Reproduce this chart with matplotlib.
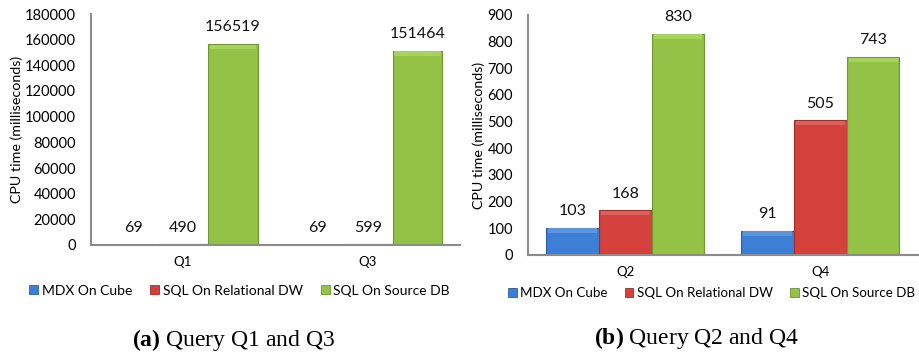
import numpy as np
import matplotlib
matplotlib.use("Agg")
import matplotlib.pyplot as plt
from matplotlib.patches import Patch, Rectangle

plt.rcParams["font.family"] = ["Lato", "DejaVu Sans"]
plt.rcParams["mathtext.fontset"] = "custom"
plt.rcParams["mathtext.rm"] = "Liberation Serif"
plt.rcParams["mathtext.bf"] = "Liberation Serif:bold"

series = ["MDX On Cube", "SQL On Relational DW", "SQL On Source DB"]
face_colors = ["#3d7fd4", "#d4403c", "#93c246"]
edge_colors = ["#2b5e9e", "#9e2e2b", "#6f9432"]
top_colors = ["#5b95e0", "#df5f5c", "#a6d35c"]

queries_a = ["Q1", "Q3"]
times_a = [
    [69, 69],
    [490, 599],
    [156519, 151464],
]
yticks_a = list(range(0, 180001, 20000))

queries_b = ["Q2", "Q4"]
times_b = [
    [103, 91],
    [168, 505],
    [830, 743],
]
yticks_b = list(range(0, 901, 100))

W, H = 919, 357
fig = plt.figure(figsize=(W / 100, H / 100), dpi=100)
ax_a = fig.add_axes([90.7 / W, 1 - 245 / H, (460 - 90.7) / W, (245 - 14) / H])
ax_b = fig.add_axes([527.7 / W, 1 - 255 / H, (918 - 527.7) / W, (255 - 15) / H])

BAR_W = 0.27
BAND_PX = 5


def draw_panel(ax, queries, times, yticks):
    x = np.arange(len(queries))
    ax.set_xlim(-0.5, len(queries) - 0.5)
    ax.set_ylim(yticks[0], yticks[-1])
    # data units per pixel, for the lighter cap on top of each bar
    per_px = (yticks[-1] - yticks[0]) / ax.get_window_extent().height
    for i, vals in enumerate(times):
        pos = x + (i - 1) * BAR_W
        ax.bar(pos, vals, BAR_W, color=face_colors[i], edgecolor=edge_colors[i],
               linewidth=0.8, zorder=2)
        for px, v in zip(pos, vals):
            band = BAND_PX * per_px
            if v > 3 * band:
                ax.add_patch(Rectangle((px - BAR_W / 2 + 0.01, v - band), BAR_W - 0.02, band * 0.85,
                                       facecolor=top_colors[i], edgecolor="none", zorder=3))
            ax.annotate(str(v), (px, v), xytext=(0, 12), textcoords="offset points",
                        ha="center", va="center", fontsize=11.5, color="#111111")
    ax.set_yticks(yticks)
    ax.set_xticks(x)
    ax.set_xticklabels(queries, fontsize=9.5)
    ax.tick_params(axis="y", length=0, pad=10.5, labelsize=10.5)
    ax.tick_params(axis="x", length=0, pad=8)
    for side in ("top", "right"):
        ax.spines[side].set_visible(False)
    for side in ("left", "bottom"):
        ax.spines[side].set_color("#8c8c8c")
        ax.spines[side].set_linewidth(1.5)
        ax.spines[side].set_zorder(4)
    ax.set_ylabel("CPU time (milliseconds)", fontsize=10.3)


draw_panel(ax_a, queries_a, times_a, yticks_a)
draw_panel(ax_b, queries_b, times_b, yticks_b)
ax_a.yaxis.set_label_coords(-0.183, 0.5)
ax_b.yaxis.set_label_coords(-0.109, 0.5)

handles = [Patch(facecolor=f, edgecolor=e, linewidth=0.6) for f, e in zip(face_colors, edge_colors)]
legend_kw = dict(loc="center", ncol=3, frameon=False,
                 handlelength=0.65, handleheight=0.65, handletextpad=0.25,
                 columnspacing=1.3)
fig.legend(handles, series, bbox_to_anchor=(239.5 / W, 1 - 290.7 / H), fontsize=10, **legend_kw)
fig.legend(handles, series, bbox_to_anchor=(711.5 / W, 1 - 293 / H), fontsize=9.6, **legend_kw)

fig.text(234 / W, 1 - 340 / H, r"$\mathbf{(a)}$ Query Q1 and Q3", ha="center", va="center",
         fontsize=17, family=["Liberation Serif", "DejaVu Serif"])
fig.text(697 / W, 1 - 338 / H, r"$\mathbf{(b)}$ Query Q2 and Q4", ha="center", va="center",
         fontsize=17, family=["Liberation Serif", "DejaVu Serif"])

fig.savefig("out.png", dpi=100)
